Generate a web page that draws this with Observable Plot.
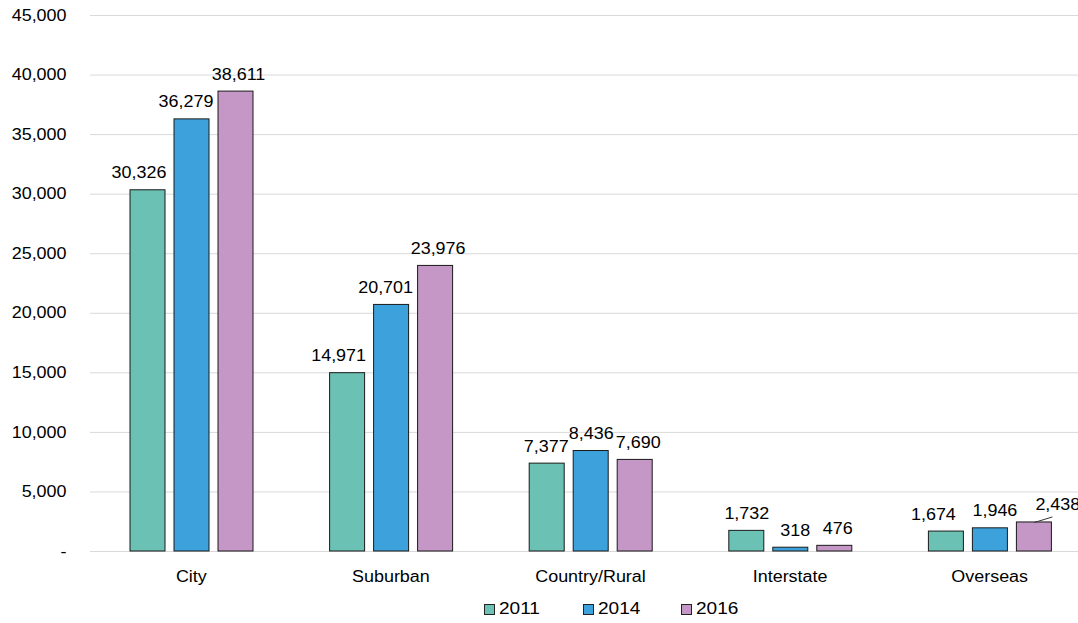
<!DOCTYPE html>
<html>
<head>
<meta charset="utf-8">
<script src="https://cdn.jsdelivr.net/npm/d3@7"></script>
<script src="https://cdn.jsdelivr.net/npm/@observablehq/plot@0.6"></script>
<style>
  html, body { margin: 0; padding: 0; background: #fff; }
  body { font-family: "Liberation Sans", Arial, sans-serif; color: #000; }
  #legend { display: flex; height: 28px; align-items: center; padding-left: 484px; font-size: 17px; }
  .item { display: flex; align-items: center; width: 98.5px; }
  .sw { width: 9px; height: 9px; border: 1px solid #222; margin-right: 4px; }
  .item span { display: inline-block; transform: scaleX(1.12); transform-origin: left center; }
</style>
</head>
<body>
<div id="chart"></div>
<div id="legend"></div>
<script>
const categories = ["City", "Suburban", "Country/Rural", "Interstate", "Overseas"];
const years = ["2011", "2014", "2016"];
const v2011 = [30326, 14971, 7377, 1732, 1674];
const v2014 = [36279, 20701, 8436, 318, 1946];
const v2016 = [38611, 23976, 7690, 476, 2438];
const colors = ["#6BC1B3", "#3DA2DC", "#C497C6"];
const yTicks = [0, 5000, 10000, 15000, 20000, 25000, 30000, 35000, 40000, 45000];

const series = [v2011, v2014, v2016];
const rows = [];
years.forEach((yr, i) => categories.forEach((c, j) => rows.push({year: yr, category: c, value: series[i][j]})));

// layout constants (pixels)
const xRange = [91, 1089];
const bw = (xRange[1] - xRange[0]) / categories.length;
const barL = [39, 83, 127];
const barW = 35;
const centerDx = barL.map(l => l + barW / 2 - bw / 2);
const stretch = 1.12;
// label nudges (pixels) as placed in the reference to avoid overlaps
const labelNudge = {
  "City|2011": -9, "City|2014": -6, "City|2016": 2.5,
  "Suburban|2011": -9, "Suburban|2014": -6, "Suburban|2016": 2.5,
  "Country/Rural|2011": -1, "Country/Rural|2014": 0, "Country/Rural|2016": 3,
  "Interstate|2011": 0, "Interstate|2014": 4.5, "Interstate|2016": 3,
  "Overseas|2011": -13, "Overseas|2014": 4.5
};

const isCallout = d => d.category === "Overseas" && d.year === "2016";
const fmt = d3.format(",");

const leader = {
  draw(ctx) { ctx.moveTo(0, 0); ctx.lineTo(18, -5.5); }
};

const marks = [
  Plot.ruleY(yTicks, {stroke: "#d9d9d9", strokeWidth: 1})
];
years.forEach((yr, i) => {
  const data = rows.filter(d => d.year === yr);
  marks.push(Plot.barY(data, {
    x: "category", y: "value", fill: colors[i], stroke: "#1a1a1a", strokeWidth: 1,
    insetLeft: barL[i], insetRight: bw - barL[i] - barW
  }));
  data.filter(d => !isCallout(d)).forEach(d => {
    marks.push(Plot.text([d], {
      x: "category", y: "value", text: r => fmt(r.value),
      dx: centerDx[i] + (labelNudge[d.category + "|" + d.year] || 0), dy: -12,
      lineAnchor: "bottom", fontSize: 16, fill: "#000"
    }));
  });
});
marks.push(Plot.dot(rows.filter(isCallout), {
  x: "category", y: "value", dx: centerDx[2], symbol: leader, fill: "none", stroke: "#333", strokeWidth: 1
}));
marks.push(Plot.text(rows.filter(isCallout), {
  x: "category", y: "value", text: d => fmt(d.value), dx: centerDx[2] + 1, dy: -12,
  textAnchor: "start", lineAnchor: "bottom", fontSize: 16, fill: "#000"
}));

const chart = Plot.plot({
  width: 1078,
  height: 595,
  marginTop: 15,
  marginBottom: 44,
  marginLeft: 90,
  marginRight: 0,
  style: {fontSize: "16px", fontFamily: "'Liberation Sans', Arial, sans-serif", color: "#000", background: "#fff", overflow: "visible"},
  x: {domain: categories, range: xRange, padding: 0, round: false, tickSize: 0, tickPadding: 19, label: null},
  y: {domain: [0, 45000], ticks: yTicks, tickFormat: d => d === 0 ? "-" : fmt(d), tickSize: 0, tickPadding: 24, label: null},
  marks
});
document.getElementById("chart").appendChild(chart);

// widen glyphs slightly to match the reference's wide Arial-like rendering
chart.querySelectorAll("text").forEach(t => {
  if (t.querySelector("tspan")) return;
  const len = t.getComputedTextLength();
  if (len > 0) {
    t.setAttribute("textLength", (len * stretch).toFixed(2));
    t.setAttribute("lengthAdjust", "spacingAndGlyphs");
  }
});

const legend = document.getElementById("legend");
years.forEach((yr, i) => {
  const item = document.createElement("div");
  item.className = "item";
  const sw = document.createElement("div");
  sw.className = "sw";
  sw.style.background = colors[i];
  const t = document.createElement("span");
  t.textContent = yr;
  item.appendChild(sw);
  item.appendChild(t);
  legend.appendChild(item);
});
</script>
</body>
</html>
